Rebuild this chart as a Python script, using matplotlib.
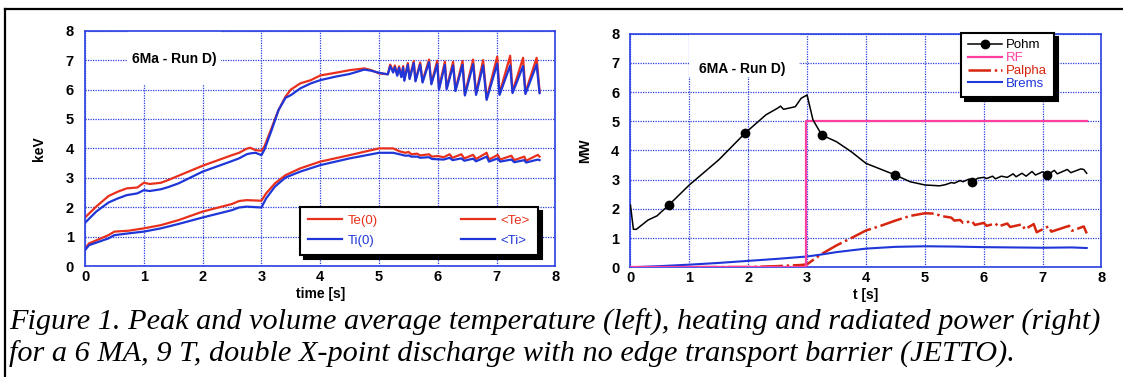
import matplotlib
matplotlib.use('Agg')
import matplotlib.pyplot as plt
from matplotlib.lines import Line2D
from matplotlib.patches import Rectangle

plt.rcParams['font.family'] = ['Liberation Sans', 'DejaVu Sans']

# ---- left panel data: temperatures (keV) ----
te0_t = [0, 0.19, 0.4, 0.56, 0.71, 0.89, 1.0, 1.1, 1.29, 1.41, 1.59, 2.0, 2.5, 2.62, 2.75, 2.81, 2.9, 3.0,
         3.05, 3.17, 3.29, 3.41, 3.5, 3.66, 3.84, 4.0, 4.26, 4.5, 4.75, 4.87, 5.0, 5.15,
         5.19, 5.24, 5.27, 5.31, 5.34, 5.38, 5.41, 5.43, 5.49, 5.52, 5.59, 5.62, 5.70, 5.74,
         5.85, 5.89, 5.99, 6.02, 6.12, 6.15, 6.26, 6.30, 6.42, 6.46, 6.60, 6.65, 6.77, 6.83,
         7.01, 7.05, 7.23, 7.27, 7.45, 7.49, 7.68, 7.73]
te0_v = [1.65, 2.02, 2.38, 2.53, 2.64, 2.67, 2.83, 2.79, 2.83, 2.92, 3.07, 3.41, 3.77, 3.85, 3.99, 4.02, 3.94, 3.92,
         4.06, 4.68, 5.30, 5.76, 6.00, 6.21, 6.32, 6.48, 6.57, 6.66, 6.72, 6.66, 6.55, 6.52,
         6.85, 6.62, 6.82, 6.50, 6.79, 6.45, 6.80, 6.33, 6.90, 6.39, 6.97, 6.31, 6.92, 6.28,
         7.02, 6.22, 6.98, 6.05, 6.95, 6.05, 6.95, 5.99, 6.97, 5.85, 7.02, 5.87, 7.00, 5.70,
         7.12, 5.87, 7.15, 5.93, 7.08, 5.90, 7.08, 5.93]

ti0_t = te0_t
ti0_v = [1.47, 1.85, 2.16, 2.30, 2.41, 2.47, 2.58, 2.55, 2.61, 2.68, 2.81, 3.21, 3.57, 3.66, 3.80, 3.83, 3.85, 3.77,
         3.95, 4.60, 5.30, 5.72, 5.81, 6.04, 6.21, 6.32, 6.44, 6.53, 6.68, 6.64, 6.57, 6.52,
         6.80, 6.58, 6.76, 6.47, 6.74, 6.42, 6.75, 6.30, 6.84, 6.36, 6.90, 6.28, 6.85, 6.24,
         6.93, 6.18, 6.86, 6.00, 6.84, 6.01, 6.82, 5.95, 6.84, 5.80, 6.86, 5.82, 6.82, 5.65,
         6.88, 5.82, 6.82, 5.88, 6.80, 5.85, 6.85, 5.88]

tea_t = [0, 0.07, 0.4, 0.5, 0.74, 1.0, 1.29, 1.59, 2.0, 2.5, 2.62, 2.75, 3.0, 3.08, 3.23, 3.41, 3.66, 4.0, 4.5,
         5.0, 5.24, 5.35, 5.45, 5.5, 5.55, 5.65, 5.7, 5.85, 5.9, 6.0, 6.1, 6.2, 6.25, 6.4, 6.45, 6.6, 6.65,
         6.83, 6.87, 7.02, 7.06, 7.25, 7.3, 7.47, 7.5, 7.7, 7.73]
tea_v = [0.60, 0.77, 1.05, 1.17, 1.20, 1.28, 1.39, 1.56, 1.85, 2.11, 2.21, 2.24, 2.22, 2.47, 2.81, 3.09, 3.32, 3.55, 3.77,
         4.00, 4.00, 3.90, 3.85, 3.88, 3.80, 3.82, 3.76, 3.80, 3.72, 3.74, 3.70, 3.80, 3.68, 3.80, 3.66, 3.78, 3.64,
         3.85, 3.62, 3.78, 3.62, 3.75, 3.60, 3.72, 3.58, 3.78, 3.72]

tia_t = tea_t
tia_v = [0.54, 0.71, 0.94, 1.05, 1.11, 1.17, 1.28, 1.43, 1.65, 1.90, 1.99, 2.02, 1.99, 2.30, 2.70, 3.01, 3.21, 3.43, 3.66,
         3.85, 3.85, 3.80, 3.75, 3.76, 3.72, 3.72, 3.68, 3.70, 3.64, 3.63, 3.62, 3.68, 3.60, 3.66, 3.58, 3.65, 3.56,
         3.72, 3.55, 3.66, 3.55, 3.62, 3.53, 3.60, 3.52, 3.62, 3.60]

# ---- right panel data: powers (MW) ----
pohm_t = [0, 0.05, 0.1, 0.3, 0.45, 0.65, 1.0, 1.5, 1.95, 2.3, 2.5, 2.55, 2.6, 2.8, 2.9, 3.0,
          3.1, 3.25, 3.5, 3.75, 4.0, 4.5, 4.75, 5.0, 5.25, 5.35, 5.45, 5.5, 5.6, 5.65, 5.75, 5.8,
          5.9, 6.0, 6.05, 6.15, 6.2, 6.3, 6.4, 6.5, 6.55, 6.65, 6.72, 6.82, 6.88, 7.0, 7.08, 7.2,
          7.25, 7.42, 7.48, 7.65, 7.7, 7.75]
pohm_v = [2.13, 1.30, 1.30, 1.62, 1.76, 2.13, 2.82, 3.68, 4.60, 5.22, 5.45, 5.52, 5.41, 5.50, 5.79, 5.90,
          5.05, 4.53, 4.30, 3.96, 3.56, 3.16, 2.93, 2.82, 2.79, 2.83, 2.90, 2.88, 2.97, 2.93, 3.02, 2.93,
          3.05, 3.08, 3.04, 3.12, 3.03, 3.12, 3.08, 3.20, 3.10, 3.22, 3.12, 3.28, 3.16, 3.27, 3.16, 3.32,
          3.20, 3.35, 3.24, 3.37, 3.35, 3.22]
pohm_marks = [0.65, 1.95, 3.25, 4.5, 5.8, 7.08]

rf_t = [0, 2.98, 2.98, 7.75]
rf_v = [0, 0, 5.0, 5.0]

palpha_t = [0, 2.0, 2.5, 2.9, 3.0, 3.1, 3.25, 3.5, 3.75, 4.0, 4.25, 4.5, 4.75, 5.0, 5.15, 5.3, 5.45, 5.5,
            5.6, 5.65, 5.8, 5.85, 6.0, 6.05, 6.2, 6.25, 6.4, 6.45, 6.65, 6.7, 6.85, 6.9, 7.1, 7.15,
            7.45, 7.5, 7.7, 7.75]
palpha_v = [0, 0.01, 0.04, 0.08, 0.10, 0.25, 0.46, 0.75, 1.00, 1.26, 1.42, 1.60, 1.76, 1.85, 1.84, 1.75, 1.70, 1.60,
            1.62, 1.52, 1.58, 1.45, 1.52, 1.42, 1.50, 1.40, 1.50, 1.38, 1.47, 1.30, 1.48, 1.20, 1.40, 1.22,
            1.42, 1.25, 1.40, 1.16]

brems_t = [0, 0.5, 1.0, 1.5, 2.0, 2.5, 3.0, 3.25, 3.5, 4.0, 4.5, 5.0, 5.5, 6.0, 6.5, 7.0, 7.5, 7.75]
brems_v = [0.0, 0.04, 0.09, 0.15, 0.22, 0.29, 0.37, 0.44, 0.52, 0.64, 0.70, 0.72, 0.71, 0.69, 0.68, 0.67, 0.68, 0.66]

RED = '#e8301c'
BLUE = '#1f36d8'
PINK = '#ff3fa0'
GRIDC = '#2a3fe0'


def style_axes(ax, ylabel, xlabel):
    ax.set_xlim(0, 8)
    ax.set_ylim(0, 8)
    ax.set_xticks(range(9))
    ax.set_yticks(range(9))
    ax.set_axisbelow(True)
    ax.grid(True, color=GRIDC, linestyle=(0, (1, 1)), linewidth=0.9)
    for s in ax.spines.values():
        s.set_color(GRIDC)
        s.set_linewidth(1.2)
    ax.tick_params(length=0, labelsize=10.5)
    ax.tick_params(axis='y', pad=8)
    ax.tick_params(axis='x', pad=3)
    for lab in ax.get_xticklabels() + ax.get_yticklabels():
        lab.set_fontweight('bold')
    ax.set_ylabel(ylabel, fontsize=10, fontweight='bold', labelpad=14)
    ax.set_xlabel(xlabel, fontsize=10, fontweight='bold', labelpad=2)


fig = plt.figure(figsize=(11.23, 3.77), dpi=100)
ax1 = fig.add_axes([0.0757, 0.2944, 0.4189, 0.624])
ax2 = fig.add_axes([0.5614, 0.291, 0.4194, 0.6196])

shadow_kw = {'ox': 3, 'oy': -3, 'facecolor': 'black', 'edgecolor': 'black', 'alpha': 1}

# left panel
style_axes(ax1, 'keV', 'time [s]')
ax1.add_patch(Rectangle((0.71, 6.2), 1.61, 1.8, facecolor='white', edgecolor='none', zorder=1))
ax1.text(0.8, 7.04, '6Ma - Run D)', fontsize=10, fontweight='bold', va='center', zorder=3)
l1, = ax1.plot(te0_t, te0_v, color=RED, lw=1.6, zorder=2)
l3, = ax1.plot(tea_t, tea_v, color=RED, lw=1.6, zorder=2)
l2, = ax1.plot(ti0_t, ti0_v, color=BLUE, lw=1.6, zorder=2)
l4, = ax1.plot(tia_t, tia_v, color=BLUE, lw=1.6, zorder=2)
leg1 = ax1.legend([l1, l2, l3, l4], ['Te(0)', 'Ti(0)', '<Te>', '<Ti>'], ncol=2, mode='expand',
                  loc='lower left', bbox_to_anchor=(0.457, 0.047, 0.505, 0.2), fontsize=9.5,
                  labelcolor='linecolor', fancybox=False, edgecolor='black', framealpha=1,
                  handlelength=2.6, handletextpad=0.4, labelspacing=0.6, borderpad=0.6,
                  borderaxespad=0, shadow=shadow_kw)
leg1.get_frame().set_linewidth(1.5)

# right panel
style_axes(ax2, 'MW', 't [s]')
ax2.add_patch(Rectangle((1.0, 6.53), 1.87, 1.47, facecolor='white', edgecolor='none', zorder=1))
ax2.text(1.17, 6.8, '6MA - Run D)', fontsize=10, fontweight='bold', va='center', zorder=3)
mk = [pohm_t.index(m) for m in pohm_marks]
p1, = ax2.plot(pohm_t, pohm_v, color='black', lw=1.1, marker='o', markersize=6,
               markevery=mk, zorder=4)
p2, = ax2.plot(rf_t, rf_v, color=PINK, lw=1.6, zorder=3)
p3, = ax2.plot(palpha_t, palpha_v, color='#d8250f', lw=1.8, dashes=(9, 1.5, 1, 1.5), zorder=2)
p4, = ax2.plot(brems_t, brems_v, color=BLUE, lw=1.5, zorder=2)
leg2 = ax2.legend([p1, p2, p3, p4], ['Pohm', 'RF', 'Palpha', 'Brems'], loc='upper left',
                  bbox_to_anchor=(0.7025, 1.005), fontsize=9.5, labelcolor='linecolor',
                  fancybox=False, edgecolor='black', framealpha=1, numpoints=1,
                  handlelength=2.6, handletextpad=0.3, labelspacing=0.05, borderpad=0.5,
                  borderaxespad=0, shadow=shadow_kw)
leg2.get_frame().set_linewidth(1.5)

# outer frame (top and left)
fig.add_artist(Line2D([5 / 1123, 1], [1 - 9 / 377, 1 - 9 / 377], color='black', lw=1.6,
                      transform=fig.transFigure))
fig.add_artist(Line2D([5 / 1123, 5 / 1123], [0, 1 - 9 / 377], color='black', lw=1.6,
                      transform=fig.transFigure))

cap_font = ['Liberation Serif', 'DejaVu Serif']
fig.text(9 / 1123, 1 - 330 / 377,
         'Figure 1. Peak and volume average temperature (left), heating and radiated power (right)',
         family=cap_font, style='italic', fontsize=21.8, va='baseline')
fig.text(9 / 1123, 1 - 362 / 377,
         'for a 6 MA, 9 T, double X-point discharge with no edge transport barrier (JETTO).',
         family=cap_font, style='italic', fontsize=21.8, va='baseline')

fig.savefig('out.png', dpi=100)
